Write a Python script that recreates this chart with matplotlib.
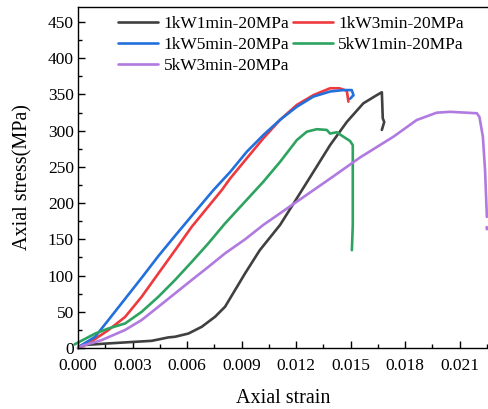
import matplotlib
matplotlib.use("Agg")
import matplotlib.pyplot as plt
from matplotlib.ticker import MultipleLocator, FormatStrFormatter

plt.rcParams['font.family'] = ['Liberation Serif', 'DejaVu Serif']

labels = ["1kW1min-20MPa", "1kW3min-20MPa", "1kW5min-20MPa", "5kW1min-20MPa", "5kW3min-20MPa"]
colors = ["#404040", "#ee3a3f", "#2270dc", "#2ea360", "#b07ae0"]

strain_1k1 = [0.0, 0.0002, 0.00167, 0.00406, 0.00497, 0.00534, 0.00607, 0.00681, 0.00754, 0.00809,
              0.00864, 0.00919, 0.0100, 0.01112, 0.01204, 0.01295, 0.01387, 0.01479, 0.0157, 0.01644,
              0.01672, 0.01677, 0.01685, 0.01672]
stress_1k1 = [0, 4, 6.4, 10, 14.7, 15.6, 20, 29.4, 43.2, 57,
              80, 103, 135, 170, 206.6, 243, 280, 312, 337.7, 349,
              353, 317, 312, 301]

strain_1k3 = [0.0, 0.00057, 0.00167, 0.00259, 0.0035, 0.00442, 0.00534, 0.00626, 0.00791, 0.00837,
              0.00929, 0.0102, 0.01112, 0.01204, 0.01295, 0.01387, 0.01438, 0.01479, 0.01488]
stress_1k3 = [0, 6.4, 24.8, 43, 70.8, 103, 135, 167.5, 218, 234,
              262, 289.5, 315, 335.5, 349, 358.5, 358.5, 355, 340]

strain_1k5 = [0.0, 0.0002, 0.00094, 0.00167, 0.00259, 0.0035, 0.00442, 0.00534, 0.00644, 0.00745,
              0.00837, 0.00929, 0.0102, 0.01112, 0.01204, 0.01295, 0.01387, 0.0146, 0.01506, 0.01516,
              0.01497]
stress_1k5 = [0, 4.1, 15.6, 38.7, 68, 97, 127, 155, 188, 218,
              243, 271, 294, 315, 333, 347, 354, 356, 356, 349,
              344]

strain_5k1 = [-0.0002, 0.00094, 0.00167, 0.00259, 0.0035, 0.00442, 0.00534, 0.00626, 0.00717, 0.00809,
              0.00919, 0.0102, 0.01112, 0.01204, 0.01259, 0.01314, 0.01369, 0.01387, 0.01424, 0.0146,
              0.01497, 0.01512, 0.01512, 0.01507]
stress_5k1 = [5, 20, 27, 34, 50, 70.8, 94, 119, 144.5, 172,
              202, 229.6, 257, 287, 298.6, 302, 301, 296, 297.8, 291.7,
              285.7, 280, 170, 135]

strain_5k3 = [0.0, 0.0002, 0.0013, 0.00259, 0.0035, 0.00442, 0.00534, 0.00626, 0.00717, 0.00809,
              0.00919, 0.0102, 0.01204, 0.01387, 0.01552, 0.01736, 0.01864, 0.01974, 0.02048, 0.02195,
              0.02209, 0.02228, 0.0224, 0.0225]
stress_5k3 = [0, 3, 11, 25, 38.7, 57, 75.5, 94, 112, 130.7,
              150, 170, 202, 233.8, 263, 291.7, 314.7, 324.8, 326, 324,
              319, 291.7, 245.7, 181]
strain_5k3_tail = [0.02249, 0.0225]
stress_5k3_tail = [167, 164]

fig = plt.figure(figsize=(4.88, 4.09), dpi=100)
ax = fig.add_axes([0.160, 0.149, 0.8414, 0.834])

series = [(strain_1k1, stress_1k1), (strain_1k3, stress_1k3), (strain_1k5, stress_1k5),
          (strain_5k1, stress_5k1), (strain_5k3, stress_5k3)]
for (xs, ys), lab, c in zip(series, labels, colors):
    ax.plot(xs, ys, color=c, lw=1.9, label=lab, solid_capstyle='round',
            solid_joinstyle='round', clip_on=False)
ax.plot(strain_5k3_tail, stress_5k3_tail, color=colors[4], lw=1.9, clip_on=False,
        solid_capstyle='round')

ax.set_xlim(0, 0.0226)
ax.set_ylim(0, 470.7)
ax.xaxis.set_major_locator(MultipleLocator(0.003))
ax.xaxis.set_minor_locator(MultipleLocator(0.0015))
ax.yaxis.set_major_locator(MultipleLocator(50))
ax.yaxis.set_minor_locator(MultipleLocator(25))
ax.xaxis.set_major_formatter(FormatStrFormatter('%.3f'))
ax.tick_params(which='both', direction='in', top=False, right=False, labelsize=12.5)
ax.tick_params(which='major', length=5, width=1)
ax.tick_params(which='minor', length=3, width=1)
ax.tick_params(axis='y', pad=3)
ax.tick_params(axis='x', pad=7)
ax.spines['right'].set_visible(False)
for s in ['left', 'bottom', 'top']:
    ax.spines[s].set_linewidth(1.0)

ax.set_xlabel("Axial strain", fontsize=14.5, labelpad=11)
ax.set_ylabel("Axial stress(MPa)", fontsize=14.5, labelpad=11)

order = [0, 2, 4, 1, 3]
handles, labs = ax.get_legend_handles_labels()
ax.legend([handles[i] for i in order], [labs[i] for i in order], ncol=2, frameon=False,
          loc='upper left', bbox_to_anchor=(0.073, 1.003), fontsize=12.5,
          handlelength=2.3, handletextpad=0.3, columnspacing=0.2, labelspacing=0.27,
          borderaxespad=0.2)

fig.savefig("out.png", dpi=100)
